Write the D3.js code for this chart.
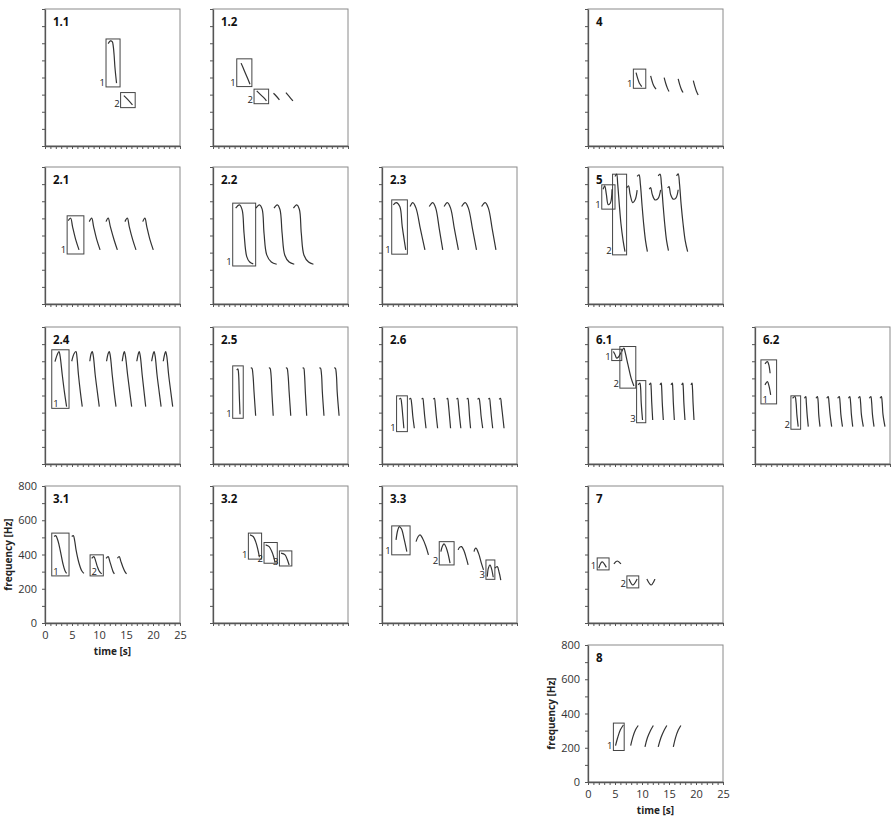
<!DOCTYPE html>
<html><head><meta charset="utf-8">
<script src="https://cdn.jsdelivr.net/npm/d3@7"></script>
<style>body{margin:0;background:#fff}svg{display:block}</style>
</head><body>
<svg id="chart" width="892" height="820"></svg>
<script>
// ---------------- DATA ----------------
const timeTicks = [0, 5, 10, 15, 20, 25];
const freqTicks = [0, 200, 400, 600, 800];
const panelNames = ["1.1","1.2","4","2.1","2.2","2.3","5","2.4","2.5","2.6","6.1","6.2","3.1","3.2","3.3","7","8"];
const labelledPanels = ["3.1", "8"];

// contours: each is a list of [time s, frequency Hz]
const c1_1 = [
  [[11.7,598],[12.1,614],[12.45,610],[12.65,580],[12.8,530],[12.95,460],[13.25,367]],
  [[14.6,294],[15.3,272],[16.2,240]]
];
const b1_1 = [[11.3,13.9,345,625,"1",0],[14.0,16.7,224,312,"2",0]];

const c1_2 = [
  [[5.2,484],[5.8,440],[6.4,395],[6.85,361]],
  [[8.1,322],[8.8,300],[9.4,282],[9.9,263]],
  [[11.2,308],[11.7,292],[12.3,269]],
  [[13.5,312],[14.1,290],[14.8,263]]
];
const b1_2 = [[4.4,7.2,347,509,"1",0],[7.6,10.3,247,332,"2",0]];

const c4 = [
  [[8.9,429],[9.2,395],[9.5,368],[9.95,347]],
  [[11.6,409],[11.9,375],[12.2,350],[12.6,332]],
  [[14.1,399],[14.4,365],[14.7,338],[15.0,318]],
  [[16.7,392],[17.0,357],[17.3,330],[17.6,312]],
  [[19.5,382],[19.8,347],[20.1,318],[20.4,298]]
];
const b4 = [[8.4,10.7,337,449,"1",0]];

const c2_1 = [
  [[4.3,487],[4.75,501],[5.1,452],[5.7,374],[6.3,316]],
  [[8.2,481],[8.65,501],[9.0,452],[9.6,374],[10.2,316]],
  [[11.3,481],[11.7,501],[12.1,452],[12.8,374],[13.4,316]],
  [[14.8,481],[15.25,501],[15.6,452],[16.25,374],[16.85,316]],
  [[18.1,481],[18.5,501],[18.85,452],[19.45,374],[20.05,316]]
];
const b2_1 = [[4.1,7.2,292,515,"1",0]];

const c2_2 = [
  [[4.2,560],[4.9,579],[5.4,550],[5.75,413],[6.25,277],[6.8,245],[7.45,234]],
  [[7.95,560],[8.6,579],[9.1,554],[9.45,413],[9.95,287],[10.8,245],[11.8,232]],
  [[11.3,560],[11.9,579],[12.4,552],[12.8,413],[13.3,285],[14.1,245],[15.05,232]],
  [[14.9,560],[15.5,579],[16.0,552],[16.35,413],[16.85,285],[17.7,245],[18.6,232]]
];
const b2_2 = [[3.65,7.9,222,589,"1",0]];

const c2_3 = [
  [[2.1,579],[2.65,592],[3.3,569],[3.75,452],[4.4,316]],
  [[5.2,569],[5.7,592],[6.3,560],[7.1,440],[7.95,316]],
  [[8.75,569],[9.4,592],[9.95,560],[10.6,440],[11.25,316]],
  [[11.5,569],[12.1,592],[12.7,560],[13.4,440],[14.15,316]],
  [[14.75,569],[15.4,592],[16.0,560],[16.75,440],[17.5,316]],
  [[18.45,569],[19.1,592],[19.7,560],[20.4,440],[21.1,316]]
];
const b2_3 = [[1.8,4.7,291,608,"1",0]];

const c5 = [
  [[2.8,670],[3.1,690],[3.4,640],[3.75,580],[4.15,590],[4.45,670]],
  [[5.0,745],[5.3,758],[5.5,700],[5.8,580],[6.1,470],[6.5,370],[6.85,306]],
  [[7.15,677],[7.5,690],[7.8,640],[8.3,592],[8.75,610],[9.1,665]],
  [[9.1,745],[9.45,754],[9.7,700],[10.0,580],[10.3,470],[10.65,370],[11.0,306]],
  [[11.35,671],[11.6,680],[11.9,640],[12.4,608],[12.95,615],[13.45,667]],
  [[13.0,748],[13.35,758],[13.6,700],[13.9,580],[14.2,470],[14.55,370],[14.9,312]],
  [[14.75,677],[15.0,686],[15.3,640],[15.8,612],[16.3,620],[16.7,667]],
  [[16.4,748],[16.7,760],[16.95,700],[17.25,580],[17.6,470],[18.0,370],[18.45,306]]
];
const b5 = [[2.55,5.0,554,696,"1",0],[4.55,7.15,287,758,"2",0]];

const c2_4 = [
  [[1.85,598],[2.35,645],[2.6,657],[2.8,630],[3.2,520],[3.6,420],[4.0,335]],
  [[4.95,600],[5.4,645],[5.75,657],[5.9,630],[6.2,520],[6.55,420],[6.9,335]],
  [[8.3,600],[8.55,645],[8.75,657],[8.95,630],[9.3,520],[9.7,420],[10.05,335]],
  [[11.4,600],[11.7,645],[11.9,657],[12.1,630],[12.45,520],[12.8,420],[13.15,335]],
  [[14.3,600],[14.55,645],[14.7,657],[14.9,630],[15.3,520],[15.7,420],[16.05,335]],
  [[17.0,600],[17.3,645],[17.45,657],[17.65,630],[18.0,520],[18.35,420],[18.65,335]],
  [[19.75,600],[20.05,645],[20.2,657],[20.4,630],[20.75,520],[21.15,420],[21.5,335]],
  [[21.9,600],[22.2,645],[22.35,657],[22.55,630],[22.9,520],[23.3,420],[23.65,335]]
];
const b2_4 = [[1.25,4.45,325,667,"1",1]];

const c2_5 = [
  [[4.4,548],[4.6,556],[4.75,520],[4.85,420],[5.0,290]],
  [[7.0,560],[7.2,560],[7.4,520],[7.6,420],[7.9,282]],
  [[10.35,560],[10.55,560],[10.75,520],[10.9,420],[11.15,282]],
  [[13.5,560],[13.7,560],[13.9,520],[14.1,420],[14.4,282]],
  [[16.6,560],[16.8,560],[16.95,520],[17.1,420],[17.35,282]],
  [[19.7,560],[19.9,560],[20.1,520],[20.25,420],[20.55,282]],
  [[22.45,560],[22.65,560],[22.85,520],[23.0,420],[23.35,282]]
];
const b2_5 = [[3.65,5.6,267,573,"1",0]];

const c2_6 = [
  [[3.2,378],[3.45,384],[3.65,350],[3.85,280],[4.05,209]],
  [[5.06,378],[5.3,384],[5.5,350],[5.7,280],[5.99,209]],
  [[7.35,378],[7.55,384],[7.7,350],[7.9,280],[8.15,209]],
  [[9.5,378],[9.7,384],[9.85,350],[10.05,280],[10.3,209]],
  [[11.98,378],[12.15,384],[12.3,350],[12.5,280],[12.7,209]],
  [[13.8,378],[14.0,384],[14.15,350],[14.35,280],[14.6,209]],
  [[15.7,378],[15.9,384],[16.05,350],[16.2,280],[16.4,209]],
  [[17.7,378],[17.95,384],[18.15,350],[18.35,280],[18.65,209]],
  [[19.7,378],[19.9,384],[20.05,350],[20.25,280],[20.5,209]],
  [[21.7,378],[21.95,384],[22.1,350],[22.35,280],[22.6,209]]
];
const b2_6 = [[2.7,4.7,189,398,"1",0]];

const c6_1 = [
  [[4.7,657],[5.0,640],[5.3,618],[5.65,625],[6.1,651]],
  [[6.25,657],[6.65,677],[6.9,650],[7.4,580],[8.0,500],[8.5,456]],
  [[9.3,462],[9.6,472],[9.75,440],[9.85,360],[10.1,257]],
  [[11.35,462],[11.6,472],[11.7,440],[11.8,360],[11.98,257]],
  [[13.33,462],[13.55,472],[13.65,440],[13.75,360],[13.95,257]],
  [[15.37,462],[15.6,472],[15.7,440],[15.8,360],[15.99,257]],
  [[17.35,462],[17.55,472],[17.65,440],[17.75,360],[17.96,257]],
  [[19.07,462],[19.25,472],[19.35,440],[19.45,360],[19.63,257]]
];
const b6_1 = [[4.4,6.25,604,670,"1",0],[5.9,8.85,443,686,"2",0],[9.0,10.7,241,487,"3",0]];

const c6_2 = [
  [[1.85,585],[2.3,598],[2.55,580],[2.8,530]],
  [[1.85,462],[2.3,481],[2.6,455],[2.9,404]],
  [[6.95,384],[7.4,394],[7.6,360],[7.75,290],[8.0,218]],
  [[9.15,384],[9.4,394],[9.5,360],[9.65,290],[9.87,218]],
  [[11.3,384],[11.55,394],[11.7,360],[11.8,290],[12.04,218]],
  [[13.28,384],[13.55,394],[13.7,360],[13.9,290],[14.2,218]],
  [[15.3,384],[15.6,394],[15.75,360],[15.9,290],[16.2,218]],
  [[17.3,384],[17.55,394],[17.7,360],[17.85,290],[18.1,218]],
  [[19.13,384],[19.4,394],[19.55,360],[19.7,290],[20.06,218]],
  [[21.17,384],[21.45,394],[21.6,360],[21.75,290],[22.04,218]],
  [[23.15,384],[23.4,394],[23.55,360],[23.7,290],[24.07,218]]
];
const b6_2 = [[1.1,4.0,351,608,"1",1],[6.65,8.45,203,398,"2",0]];

const c3_1 = [
  [[1.7,505],[2.0,510],[2.4,480],[2.8,427],[3.3,349],[3.7,305],[4.0,290]],
  [[4.95,505],[5.25,510],[5.5,480],[5.75,427],[6.3,349],[6.8,305],[7.2,290]],
  [[8.65,378],[9.05,388],[9.4,360],[9.7,329],[10.1,300],[10.5,287]],
  [[11.3,378],[11.7,388],[12.0,360],[12.3,329],[12.6,300],[12.85,287]],
  [[13.4,378],[13.75,388],[14.05,360],[14.4,329],[14.8,300],[15.1,287]]
];
const b3_1 = [[1.25,4.45,275,525,"1",1],[8.35,10.8,275,398,"2",1]];

const c3_2 = [
  [[6.85,515],[7.45,505],[7.9,475],[8.3,430],[8.6,384]],
  [[9.75,456],[10.4,446],[10.85,420],[11.2,390],[11.5,353]],
  [[12.6,408],[13.35,398],[13.7,375],[14.1,339]]
];
const b3_2 = [[6.55,9.0,373,525,"1",0],[9.45,11.9,349,470,"2",0],[12.3,14.6,333,421,"3",0]];

const c3_3 = [
  [[2.6,485],[2.9,540],[3.2,563],[3.6,550],[4.1,490],[4.6,417]],
  [[6.3,475],[6.7,505],[7.05,515],[7.5,495],[8.1,450],[8.6,398]],
  [[10.9,417],[11.2,450],[11.5,462],[11.9,440],[12.3,395],[12.6,349]],
  [[14.1,427],[14.4,443],[14.75,446],[15.2,420],[15.6,380],[15.95,339]],
  [[17.05,417],[17.2,432],[17.4,437],[17.9,405],[18.4,350],[18.8,310]],
  [[19.5,271],[19.7,320],[20.0,339],[20.3,315],[20.6,267]],
  [[20.9,320],[21.35,329],[21.7,295],[22.0,251]]
];
const b3_3 = [[1.8,5.2,398,567,"1",0],[10.6,13.35,339,475,"2",0],[19.25,20.9,255,368,"3",0]];

const c7 = [
  [[2.0,320],[2.6,357],[3.4,325]],
  [[4.8,345],[5.4,362],[6.1,345]],
  [[7.6,257],[8.3,222],[9.1,257]],
  [[10.9,257],[11.7,222],[12.4,257]]
];
const b7 = [[1.7,3.9,310,380,"1",0],[7.2,9.4,205,275,"2",0]];

const c8 = [
  [[5.1,212],[5.5,260],[6.0,305],[6.55,333]],
  [[7.9,212],[8.3,262],[8.8,305],[9.3,330]],
  [[10.55,205],[11.0,258],[11.6,302],[12.1,330]],
  [[13.0,205],[13.5,258],[14.1,302],[14.6,330]],
  [[15.8,205],[16.2,258],[16.7,302],[17.2,330]]
];
const b8 = [[4.7,6.7,184,344,"1",0]];

// ---------------- BUILD ----------------
const contourSets = [c1_1,c1_2,c4,c2_1,c2_2,c2_3,c5,c2_4,c2_5,c2_6,c6_1,c6_2,c3_1,c3_2,c3_3,c7,c8];
const boxSets = [b1_1,b1_2,b4,b2_1,b2_2,b2_3,b5,b2_4,b2_5,b2_6,b6_1,b6_2,b3_1,b3_2,b3_3,b7,b8];
const panels = panelNames.map((n,i)=>({name:n, contours:contourSets[i], boxes:boxSets[i]}));

// layout (grid cell per panel)
const colX = [45, 213, 382, 588, 755];
const rowY = [9, 167, 327, 486, 645];
const cell = {"1.1":[0,0],"1.2":[1,0],"4":[3,0],"2.1":[0,1],"2.2":[1,1],"2.3":[2,1],"5":[3,1],
  "2.4":[0,2],"2.5":[1,2],"2.6":[2,2],"6.1":[3,2],"6.2":[4,2],"3.1":[0,3],"3.2":[1,3],"3.3":[2,3],"7":[3,3],"8":[3,4]};
const W = 135, H = 137;
const FONT = "'Open Sans', 'Liberation Sans', sans-serif";

const x = d3.scaleLinear().domain([0,25]).range([0,W]);
const y = d3.scaleLinear().domain([0,800]).range([H,0]);
const line = d3.line().x(d=>x(d[0])).y(d=>y(d[1])).curve(d3.curveCatmullRom.alpha(0.5));

const svg = d3.select("#chart");

panels.forEach(p => {
  const [ci, ri] = cell[p.name];
  const g = svg.append("g").attr("transform", `translate(${colX[ci]},${rowY[ri]})`);
  const lab = labelledPanels.includes(p.name);

  // frame
  g.append("rect").attr("x",0).attr("y",0).attr("width",W).attr("height",H)
    .attr("fill","none").attr("stroke","#8a8a8a").attr("stroke-width",1);

  // axes
  const ya = d3.axisLeft(y).tickValues(d3.range(0,801,100)).tickSizeInner(3).tickSizeOuter(0)
    .tickFormat(d => (lab && freqTicks.includes(d)) ? d : "");
  const xa = d3.axisBottom(x).tickValues(d3.range(0,26,1)).tickSizeInner(3).tickSizeOuter(0)
    .tickFormat(d => (lab && timeTicks.includes(d)) ? d : "");
  const gy = g.append("g").call(ya);
  const gx = g.append("g").attr("transform",`translate(0,${H})`).call(xa);
  [gy,gx].forEach(a=>{
    a.select(".domain").attr("stroke","#555").attr("stroke-width",1.3);
    a.selectAll(".tick line").attr("stroke","#555");
    a.selectAll("text").attr("font-family",FONT).attr("font-size",11).attr("fill","#333");
  });
  gy.selectAll("text").attr("x",-8);
  gx.selectAll("text").attr("y",8);

  if (lab) {
    g.append("text").attr("transform",`translate(${-33},${H/2}) rotate(-90)`)
      .attr("text-anchor","middle").attr("font-family",FONT).attr("font-weight","bold")
      .attr("font-size",10).attr("fill","#222").text("frequency [Hz]");
    g.append("text").attr("x",x(12.5)).attr("y",H+32)
      .attr("text-anchor","middle").attr("font-family",FONT).attr("font-weight","bold")
      .attr("font-size",10).attr("fill","#222").text("time [s]");
  }

  // title
  g.append("text").attr("x",8).attr("y",17).attr("font-family",FONT).attr("font-weight","bold")
    .attr("font-size",11.5).attr("fill","#111").text(p.name);

  // boxes
  p.boxes.forEach(b => {
    const [t0,t1,f0,f1,l,inside] = b;
    g.append("rect").attr("x",x(t0)).attr("y",y(f1)).attr("width",x(t1)-x(t0)).attr("height",y(f0)-y(f1))
      .attr("fill","none").attr("stroke","#444").attr("stroke-width",1);
    g.append("text").attr("x", inside ? x(t0)+1.5 : x(t0)-1).attr("y", y(f0)-1)
      .attr("text-anchor", inside ? "start" : "end")
      .attr("font-family",FONT).attr("font-size",9.5).attr("fill","#222").text(l);
  });

  // contours
  p.contours.forEach(c => {
    g.append("path").attr("d",line(c)).attr("fill","none").attr("stroke","#333").attr("stroke-width",1.2);
  });
});
</script>
</body></html>
